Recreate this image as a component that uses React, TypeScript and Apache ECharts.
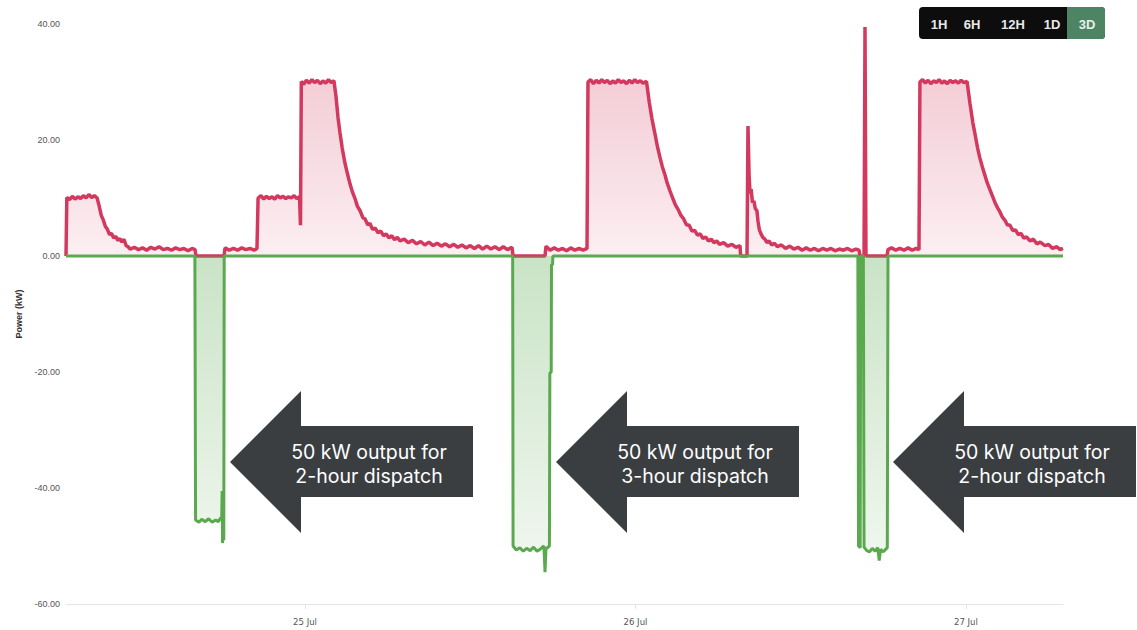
import React, { useEffect, useRef } from "react";
import * as echarts from "echarts";

// x values are hours relative to 25 Jul 00:00
const xStartHour = -17.36;
const xEndHour = 55.05;
const dayTicks = [0, 24, 48];
const dayLabels = ["25 Jul", "26 Jul", "27 Jul"];

// Site power drawn (kW) — red series
const importPower: [number, number][] = [
  [-17.36, 0],
  [-17.3, 10.1], [-17.1, 9.7], [-16.9, 10.3], [-16.7, 9.8], [-16.5, 10.2], [-16.3, 9.9], [-16.1, 10.4], [-15.9, 10.0],
  [-15.7, 10.6], [-15.5, 10.1], [-15.3, 10.4], [-15.1, 10.0],
  [-14.95, 8.6], [-14.8, 7.0], [-14.65, 6.2], [-14.5, 5.1], [-14.35, 4.6], [-14.2, 3.7], [-14.05, 3.9], [-13.9, 3.1],
  [-13.75, 3.4], [-13.6, 2.7], [-13.45, 3.0], [-13.3, 2.4], [-13.15, 2.9], [-13.0, 1.8], [-12.85, 1.6], [-12.7, 1.2],
  [-12.4, 1.5], [-12.1, 1.1], [-11.8, 1.4], [-11.5, 1.0], [-11.2, 1.5], [-10.9, 1.2], [-10.6, 1.6], [-10.3, 1.1],
  [-10.0, 1.3], [-9.7, 1.0], [-9.4, 1.4], [-9.1, 1.1], [-8.8, 1.3], [-8.5, 0.9], [-8.2, 1.3], [-7.99, 1.1],
  [-7.92, 0], [-5.88, 0],
  [-5.81, 1.4], [-5.5, 1.0], [-5.2, 1.3], [-4.9, 1.0], [-4.6, 1.4], [-4.3, 1.1], [-4.0, 1.3], [-3.7, 1.0], [-3.49, 1.3],
  [-3.41, 10.0], [-3.2, 10.4], [-3.0, 9.8], [-2.8, 10.3], [-2.6, 9.9], [-2.4, 10.2], [-2.2, 9.8], [-2.0, 10.4],
  [-1.8, 10.0], [-1.6, 10.3], [-1.4, 9.9], [-1.2, 10.2], [-1.0, 10.0], [-0.8, 10.4], [-0.6, 9.9], [-0.4, 10.2],
  [-0.33, 5.3], [-0.27, 30.1],
  [-0.1, 29.6], [0.1, 30.3], [0.3, 29.8], [0.5, 30.4], [0.7, 29.9], [0.9, 30.3], [1.1, 29.7], [1.3, 30.2],
  [1.5, 29.8], [1.7, 30.4], [1.9, 29.9], [2.1, 30.2],
  [2.25, 27.5], [2.4, 23.8], [2.54, 21.2], [2.7, 18.6], [2.9, 16.0], [3.1, 14.0], [3.27, 12.4], [3.45, 11.0],
  [3.63, 9.9], [3.8, 8.6], [4.0, 7.8], [4.2, 6.6], [4.36, 6.4], [4.55, 5.4], [4.72, 5.6], [4.9, 4.6], [5.1, 4.8],
  [5.3, 4.0], [5.5, 4.3], [5.7, 3.5], [5.9, 3.8], [6.1, 3.1], [6.3, 3.5], [6.5, 2.8], [6.7, 3.2], [6.9, 2.6],
  [7.2, 2.9], [7.5, 2.3], [7.8, 2.7], [8.1, 2.1], [8.4, 2.5], [8.7, 1.9], [9.0, 2.4], [9.3, 1.8], [9.6, 2.2],
  [9.9, 1.7], [10.2, 2.1], [10.5, 1.6], [10.8, 2.0], [11.1, 1.5], [11.4, 1.9], [11.7, 1.4], [12.0, 1.8], [12.3, 1.3],
  [12.6, 1.8], [12.9, 1.2], [13.2, 1.7], [13.5, 1.2], [13.8, 1.6], [14.1, 1.1], [14.4, 1.6], [14.7, 1.1], [15.03, 1.5],
  [15.11, 0], [17.43, 0],
  [17.5, 1.7], [17.8, 1.0], [18.1, 1.4], [18.4, 1.0], [18.7, 1.3], [19.0, 0.9], [19.3, 1.4], [19.6, 1.0], [19.9, 1.3],
  [20.2, 1.0], [20.48, 1.3],
  [20.55, 30.0], [20.75, 30.4], [20.95, 29.7], [21.15, 30.3], [21.35, 29.8], [21.55, 30.4], [21.75, 29.9], [21.95, 30.3],
  [22.15, 29.7], [22.35, 30.2], [22.55, 29.8], [22.75, 30.4], [22.95, 29.9], [23.15, 30.2], [23.35, 29.7], [23.55, 30.3],
  [23.75, 29.8], [23.95, 30.4], [24.15, 29.9], [24.35, 30.2], [24.55, 29.8], [24.8, 30.1],
  [25.0, 26.5], [25.2, 23.6], [25.42, 21.0], [25.6, 18.8], [25.78, 17.0], [25.95, 15.4], [26.14, 14.0], [26.3, 12.6],
  [26.51, 11.2], [26.7, 10.0], [26.9, 8.8], [27.1, 8.0], [27.3, 7.0], [27.5, 6.4], [27.7, 5.4], [27.9, 5.3], [28.1, 4.3],
  [28.3, 4.4], [28.5, 3.6], [28.7, 3.8], [28.9, 3.0], [29.1, 3.3], [29.3, 2.6], [29.5, 2.9], [29.7, 2.3], [29.9, 2.6],
  [30.1, 2.0], [30.4, 2.3], [30.7, 1.7], [31.0, 2.0], [31.3, 1.5], [31.59, 1.8],
  [31.64, 0], [32.1, 0],
  [32.17, 22.4], [32.25, 14.0], [32.32, 10.8], [32.4, 11.5], [32.5, 9.2], [32.6, 9.5], [32.7, 8.2], [32.82, 7.8],
  [32.9, 6.0], [33.0, 4.5], [33.1, 3.9], [33.25, 3.2], [33.4, 2.9], [33.55, 2.3], [33.7, 2.6], [33.9, 1.9], [34.1, 2.2],
  [34.3, 1.6], [34.6, 1.9], [34.9, 1.3], [35.2, 1.7], [35.5, 1.2], [35.8, 1.5], [36.1, 1.0], [36.4, 1.4], [36.7, 1.0],
  [37.0, 1.3], [37.3, 0.9], [37.6, 1.3], [37.9, 1.0], [38.2, 1.3], [38.5, 0.9], [38.8, 1.2], [39.1, 1.0], [39.4, 1.3],
  [39.7, 0.9], [40.0, 1.2], [40.23, 1.0],
  [40.31, 0], [40.6, 0], [40.67, 39.5], [40.74, 0], [42.27, 0],
  [42.34, 1.1], [42.6, 1.4], [42.9, 1.0], [43.2, 1.3], [43.5, 1.0], [43.8, 1.4], [44.1, 1.0], [44.4, 1.3], [44.59, 1.1],
  [44.66, 30.0], [44.85, 30.4], [45.05, 29.8], [45.25, 30.3], [45.45, 29.7], [45.65, 30.2], [45.85, 29.9], [46.05, 30.4],
  [46.25, 29.8], [46.45, 30.2], [46.65, 29.7], [46.85, 30.3], [47.05, 29.9], [47.25, 30.2], [47.45, 29.8], [47.65, 30.3],
  [47.85, 29.9], [48.08, 30.1],
  [48.3, 26.2], [48.5, 23.0], [48.66, 21.0], [48.85, 18.6], [49.0, 17.0], [49.2, 15.3], [49.38, 13.9], [49.55, 12.6],
  [49.75, 11.4], [49.95, 10.2], [50.15, 9.0], [50.3, 8.3], [50.47, 7.6], [50.65, 6.7], [50.85, 6.1], [51.0, 5.4],
  [51.2, 5.3], [51.4, 4.4], [51.6, 4.5], [51.8, 3.7], [52.0, 3.9], [52.2, 3.1], [52.4, 3.3], [52.65, 2.6], [52.9, 2.9],
  [53.15, 2.1], [53.4, 2.4], [53.74, 1.8], [54.0, 2.0], [54.3, 1.3], [54.6, 1.6], [54.85, 1.1], [55.05, 1.3],
];

// Battery dispatch (kW) — green series
const dispatchPower: [number, number][] = [
  [-17.36, 0], [-8.0, 0],
  [-7.95, -45.5], [-7.7, -45.9], [-7.5, -45.4], [-7.25, -45.8], [-7.0, -45.3], [-6.75, -45.9], [-6.5, -45.5],
  [-6.3, -45.8], [-6.15, -45.2], [-6.05, -45.0],
  [-6.02, -40.5], [-5.99, -49.5], [-5.93, -46.5], [-5.9, -49.0], [-5.87, 0],
  [15.08, 0],
  [15.11, -50.0], [15.35, -50.7], [15.6, -50.3], [15.85, -50.9], [16.1, -50.4], [16.35, -50.8], [16.6, -50.2],
  [16.85, -50.9], [17.1, -50.5], [17.35, -50.0],
  [17.43, -54.5], [17.5, -50.5], [17.75, -50.0], [17.78, -20.2], [17.88, -20.0], [17.9, -1.5], [17.98, -1.5], [18.0, 0],
  [40.15, 0], [40.2, -50.0], [40.32, -50.3], [40.36, 0], [40.55, 0],
  [40.6, -50.2], [40.8, -50.8], [41.0, -51.0], [41.2, -50.4], [41.4, -50.9], [41.6, -50.3], [41.7, -52.5], [41.8, -50.6],
  [42.0, -51.0], [42.2, -50.5], [42.29, -50.3], [42.34, 0],
  [55.05, 0],
];

const rangeButtons = ["1H", "6H", "12H", "1D", "3D"];
const activeRange = "3D";
const noteTexts = [
  "50 kW output for\n2-hour dispatch",
  "50 kW output for\n3-hour dispatch",
  "50 kW output for\n2-hour dispatch",
];

const RED = "#d3395f";
const GREEN = "#5aa94f";

export default function App() {
  const ref = useRef<HTMLDivElement>(null);

  useEffect(() => {
    if (!ref.current) return;
    const chart = echarts.init(ref.current, undefined, { renderer: "svg" });

    const buttonX = [939, 972, 1013, 1052, 1087];
    const graphic: any[] = [
      { type: "rect", shape: { x: 919, y: 7, width: 186, height: 32, r: 4 }, style: { fill: "#0d0d0d" } },
      { type: "rect", shape: { x: 1067, y: 7, width: 38, height: 32, r: [0, 4, 4, 0] }, style: { fill: "#4c8464" } },
    ];
    rangeButtons.forEach((b, i) => {
      graphic.push({
        type: "text",
        x: buttonX[i],
        y: 24,
        style: {
          text: b,
          fill: b === activeRange ? "#e6efe9" : "#e8e8e8",
          font: "600 13px 'Liberation Sans', Arial, sans-serif",
          align: "center",
          verticalAlign: "middle",
          textAlign: "center",
          textVerticalAlign: "middle",
        },
      });
    });

    const tips = [230, 556, 893];
    tips.forEach((tx, i) => {
      const cy = 462;
      const hx = tx + 71;
      const rx = hx + 172;
      graphic.push({
        type: "polygon",
        shape: {
          points: [
            [tx, cy], [hx, cy - 71], [hx, cy - 36], [rx, cy - 36],
            [rx, cy + 35], [hx, cy + 35], [hx, cy + 71],
          ],
        },
        style: { fill: "#3b3e41" },
      });
      graphic.push({
        type: "text",
        x: tx + 139,
        y: 464,
        style: {
          text: noteTexts[i],
          fill: "#ffffff",
          font: "400 19.5px Inter, 'Noto Sans', sans-serif",
          lineHeight: 24,
          align: "center",
          verticalAlign: "middle",
          textAlign: "center",
          textVerticalAlign: "middle",
        },
      });
    });

    chart.setOption({
      animation: false,
      backgroundColor: "#ffffff",
      grid: { left: 66, right: 74, top: 24, bottom: 26, containLabel: false, outerBoundsMode: "none" },
      xAxis: {
        type: "value",
        min: xStartHour,
        max: xEndHour,
        axisLine: { onZero: false, lineStyle: { color: "#e4e4e4", width: 1 } },
        axisTick: { show: true, customValues: dayTicks, length: 5, lineStyle: { color: "#e4e4e4" } },
        axisLabel: {
          customValues: dayTicks,
          formatter: (v: number) => dayLabels[dayTicks.indexOf(Math.round(v))] ?? "",
          color: "#555",
          fontSize: 9.5,
          fontFamily: "'Liberation Sans Narrow', 'DejaVu Sans Condensed', Arial, sans-serif",
          margin: 12,
        },
        splitLine: { show: false },
      },
      yAxis: {
        type: "value",
        min: -60,
        max: 40,
        interval: 20,
        name: "Power (kW)",
        nameLocation: "middle",
        nameGap: 40,
        nameRotate: 90,
        nameTextStyle: { fontSize: 9, fontWeight: "bold", color: "#333", fontFamily: "'Liberation Sans', Arial, sans-serif" },
        axisLine: { show: false },
        axisTick: { show: false },
        splitLine: { show: false },
        axisLabel: {
          formatter: (v: number) => v.toFixed(2),
          color: "#555",
          fontSize: 9,
          fontFamily: "'Liberation Sans', Arial, sans-serif",
          margin: 6,
        },
      },
      series: [
        {
          type: "line",
          data: importPower,
          symbol: "none",
          showSymbol: false,
          lineStyle: { color: RED, width: 3.5 },
          itemStyle: { color: RED },
          areaStyle: {
            color: new echarts.graphic.LinearGradient(0, 0, 0, 1, [
              { offset: 0, color: "rgba(211,57,95,0.43)" },
              { offset: 1, color: "rgba(211,57,95,0.12)" },
            ]),
          },
          z: 2,
        },
        {
          type: "line",
          data: dispatchPower,
          symbol: "none",
          showSymbol: false,
          lineStyle: { color: GREEN, width: 3 },
          itemStyle: { color: GREEN },
          areaStyle: {
            color: new echarts.graphic.LinearGradient(0, 0, 0, 1, [
              { offset: 0, color: "rgba(90,169,79,0.46)" },
              { offset: 1, color: "rgba(90,169,79,0.12)" },
            ]),
          },
          z: 3,
        },
      ],
      graphic,
    });

    return () => chart.dispose();
  }, []);

  return <div ref={ref} style={{ position: "fixed", left: 0, top: 0, width: 1137, height: 630 }} />;
}
